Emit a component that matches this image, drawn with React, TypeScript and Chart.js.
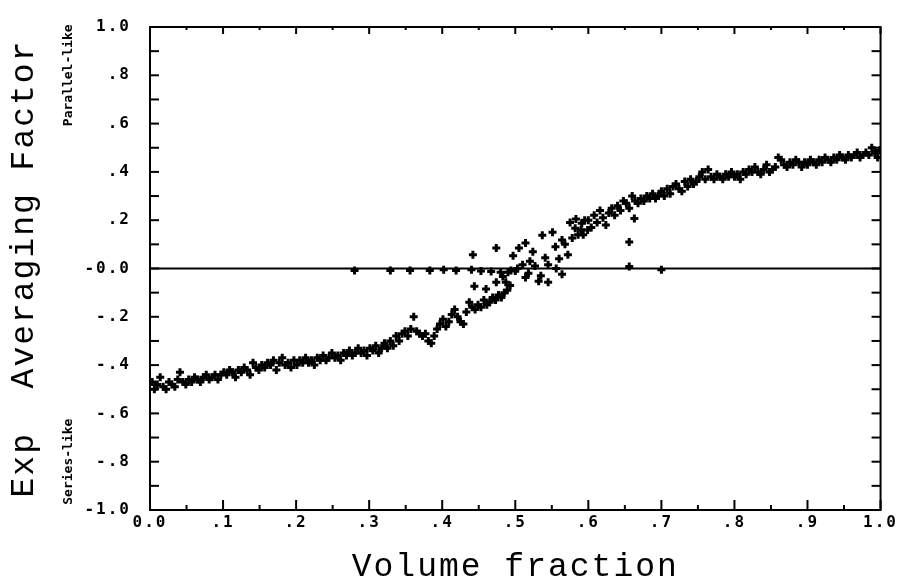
import React, { useEffect, useRef } from 'react';
import { Chart, registerables } from 'chart.js';

Chart.register(...registerables);

// ---- data ----
const bandLowX = [
  0.003, 0.006, 0.010, 0.014, 0.018, 0.022, 0.026, 0.030, 0.034, 0.038, 0.041, 0.045, 0.049, 0.053,
  0.057, 0.061, 0.065, 0.069, 0.073, 0.077, 0.081, 0.085, 0.089, 0.093, 0.097, 0.101,
  0.105, 0.109, 0.113, 0.117, 0.121, 0.125, 0.129, 0.133, 0.137, 0.141, 0.145, 0.149, 0.153,
  0.157, 0.161, 0.165, 0.169, 0.173, 0.177, 0.181, 0.185, 0.189, 0.193, 0.197, 0.201,
  0.205, 0.209, 0.213, 0.217, 0.221, 0.225, 0.229, 0.233, 0.237, 0.241, 0.245, 0.249, 0.253,
  0.257, 0.261, 0.265, 0.269, 0.273, 0.277, 0.281, 0.285, 0.289, 0.293, 0.297,
  0.301, 0.305, 0.309, 0.313, 0.317, 0.321, 0.325, 0.329, 0.333, 0.337, 0.341, 0.345, 0.349,
  0.353, 0.357, 0.361, 0.365, 0.369, 0.373, 0.377, 0.381, 0.385, 0.389, 0.393, 0.397,
];
const bandLowY = [
  -0.47, -0.50, -0.48, -0.45, -0.49, -0.50, -0.47, -0.48, -0.49, -0.46, -0.43, -0.47, -0.48, -0.46,
  -0.47, -0.45, -0.46, -0.47, -0.45, -0.44, -0.46, -0.45, -0.44, -0.46, -0.44, -0.43,
  -0.44, -0.42, -0.43, -0.45, -0.42, -0.43, -0.41, -0.42, -0.44, -0.39, -0.41, -0.42, -0.40,
  -0.41, -0.39, -0.40, -0.38, -0.42, -0.39, -0.37, -0.40, -0.39, -0.41, -0.38, -0.40,
  -0.38, -0.39, -0.37, -0.39, -0.38, -0.40, -0.37, -0.38, -0.36, -0.38, -0.37, -0.35, -0.37,
  -0.36, -0.38, -0.35, -0.36, -0.34, -0.36, -0.35, -0.33, -0.35, -0.34, -0.36,
  -0.33, -0.34, -0.32, -0.35, -0.33, -0.31, -0.33, -0.30, -0.32, -0.28, -0.30, -0.27, -0.26,
  -0.28, -0.25, -0.20, -0.26, -0.27, -0.28, -0.27, -0.30, -0.31, -0.28, -0.25, -0.23,
];

const crossoverX = [
  0.401, 0.405, 0.409, 0.413, 0.417, 0.421, 0.425, 0.429, 0.433, 0.437, 0.441, 0.445, 0.449,
  0.453, 0.457, 0.461, 0.465, 0.469, 0.473, 0.477, 0.481, 0.485, 0.489, 0.493,
  0.442, 0.474, 0.497, 0.505, 0.514, 0.524, 0.537, 0.551, 0.564, 0.578, 0.582, 0.591, 0.599,
  0.572, 0.541, 0.545, 0.510, 0.490, 0.483, 0.474, 0.514, 0.532, 0.545, 0.487, 0.564, 0.444,
  0.460, 0.500, 0.503, 0.518, 0.520, 0.527, 0.535, 0.556, 0.560, 0.555, 0.568, 0.586, 0.595,
  0.575, 0.583, 0.590, 0.593,
];
const crossoverY = [
  -0.21, -0.24, -0.22, -0.19, -0.17, -0.20, -0.22, -0.23, -0.18, -0.14, -0.16, -0.17, -0.15,
  -0.16, -0.13, -0.15, -0.14, -0.12, -0.13, -0.11, -0.12, -0.10, -0.09, -0.07,
  0.057, 0.085, 0.053, 0.085, 0.106, 0.069, 0.138, 0.150, 0.118, 0.126, 0.167, 0.187, 0.159,
  0.057, 0.045, 0.016, 0.016, -0.016, -0.033, -0.057, -0.037, -0.053, -0.057, -0.057, -0.024, -0.073,
  -0.085, -0.010, 0.000, -0.020, 0.030, 0.010, -0.030, 0.000, 0.040, 0.090, 0.100, 0.140, 0.200,
  0.190, 0.205, 0.160, 0.140,
];

const bandHighX = [
  0.600, 0.604, 0.608, 0.612, 0.616, 0.620, 0.624, 0.628, 0.632, 0.636, 0.640, 0.644, 0.648,
  0.652, 0.656, 0.660, 0.664, 0.668, 0.672, 0.676, 0.680, 0.684, 0.688, 0.692, 0.696,
  0.700, 0.704, 0.708, 0.712, 0.716, 0.720, 0.724, 0.728, 0.732, 0.736, 0.740, 0.744, 0.748,
  0.752, 0.756, 0.760, 0.764, 0.768, 0.772, 0.776, 0.780, 0.784, 0.788, 0.792, 0.796,
  0.800, 0.804, 0.808, 0.812, 0.816, 0.820, 0.824, 0.828, 0.832, 0.836, 0.840, 0.844, 0.848,
  0.852, 0.856, 0.860, 0.864, 0.868, 0.872, 0.876, 0.880, 0.884, 0.888, 0.892, 0.896,
  0.900, 0.904, 0.908, 0.912, 0.916, 0.920, 0.924, 0.928, 0.932, 0.936, 0.940, 0.944, 0.948,
  0.952, 0.956, 0.960, 0.964, 0.968, 0.972, 0.976, 0.980, 0.984, 0.988, 0.992, 0.996, 0.999,
  0.663, 0.656,
];
const bandHighY = [
  0.20, 0.17, 0.22, 0.19, 0.24, 0.21, 0.18, 0.23, 0.25, 0.22, 0.26, 0.24, 0.28,
  0.27, 0.25, 0.30, 0.28, 0.27, 0.29, 0.28, 0.30, 0.29, 0.31, 0.29, 0.30,
  0.32, 0.30, 0.33, 0.31, 0.34, 0.35, 0.33, 0.32, 0.36, 0.34, 0.37, 0.35, 0.36,
  0.38, 0.40, 0.37, 0.41, 0.38, 0.37, 0.39, 0.38, 0.37, 0.39, 0.38, 0.40,
  0.38, 0.39, 0.37, 0.40, 0.39, 0.41, 0.40, 0.42, 0.40, 0.39, 0.41, 0.43, 0.40,
  0.41, 0.42, 0.46, 0.45, 0.43, 0.42, 0.44, 0.43, 0.45, 0.44, 0.42, 0.44,
  0.43, 0.45, 0.44, 0.43, 0.45, 0.44, 0.46, 0.45, 0.44, 0.46, 0.45, 0.47, 0.46,
  0.45, 0.47, 0.46, 0.47, 0.48, 0.46, 0.47, 0.48, 0.47, 0.50, 0.48, 0.46, 0.49,
  0.207, 0.110,
];

const zeroDotX = [0.280, 0.329, 0.356, 0.383, 0.402, 0.419, 0.440, 0.453, 0.467, 0.480, 0.494, 0.656, 0.700];
const zeroDotY = [-0.008, -0.008, -0.008, -0.008, -0.005, -0.008, -0.005, -0.010, -0.012, -0.016, -0.008, 0.008, -0.005];

const zeroLineX = [0, 1];
const zeroLineY = [0, 0];

const xTickValues = [0, 0.1, 0.2, 0.3, 0.4, 0.5, 0.6, 0.7, 0.8, 0.9, 1.0];
const xTickLabels = ['0.0', '.1', '.2', '.3', '.4', '.5', '.6', '.7', '.8', '.9', '1.0'];
const yTickValues = [-1, -0.8, -0.6, -0.4, -0.2, 0, 0.2, 0.4, 0.6, 0.8, 1.0];
const yTickLabels = ['-1.0', '-.8', '-.6', '-.4', '-.2', '-0.0', '.2', '.4', '.6', '.8', '1.0'];

const xAxisTitle = 'Volume fraction';
const yAxisTitle = 'Exp  Averaging Factor';
const upperNote = 'Parallel-like';
const lowerNote = 'Series-like';
const upperNoteAt = 0.8;
const lowerNoteAt = -0.8;

const MONO = "'DejaVu Sans Mono', monospace";
const TITLE_FONT = "'Liberation Mono', 'DejaVu Sans Mono', monospace";

function pairs(xs: number[], ys: number[]) {
  return xs.map((x, i) => ({ x, y: ys[i] }));
}

const framePlugin = {
  id: 'frameTicks',
  beforeLayout(chart: any) {
    chart.ctx.letterSpacing = '2px';
  },
  beforeDraw(chart: any) {
    chart.ctx.letterSpacing = '2px';
  },
  afterDraw(chart: any) {
    const { ctx, chartArea: a, scales } = chart;
    const xs = scales.x;
    const ys = scales.y;
    ctx.save();
    ctx.strokeStyle = '#000';
    ctx.lineWidth = 2;
    ctx.strokeRect(a.left, a.top, a.right - a.left, a.bottom - a.top);
    const seg = (x1: number, y1: number, x2: number, y2: number) => {
      ctx.beginPath();
      ctx.moveTo(x1, y1);
      ctx.lineTo(x2, y2);
      ctx.stroke();
    };
    xTickValues.forEach((v, i) => {
      const px = xs.getPixelForValue(v);
      seg(px, a.bottom, px, a.bottom - 10);
      seg(px, a.top, px, a.top + 7);
      if (i < xTickValues.length - 1) {
        const pm = xs.getPixelForValue((v + xTickValues[i + 1]) / 2);
        seg(pm, a.bottom, pm, a.bottom - 5);
        seg(pm, a.top, pm, a.top + 3);
      }
    });
    yTickValues.forEach((v, i) => {
      const py = ys.getPixelForValue(v);
      seg(a.left, py, a.left + 9, py);
      seg(a.right, py, a.right - 9, py);
      if (i < yTickValues.length - 1) {
        const pm = ys.getPixelForValue((v + yTickValues[i + 1]) / 2);
        seg(a.left, pm, a.left + 9, pm);
        seg(a.right, pm, a.right - 9, pm);
      }
    });
    ctx.fillStyle = '#000';
    ctx.font = `bold 13px ${MONO}`;
    ctx.letterSpacing = '0px';
    ctx.textAlign = 'center';
    ctx.textBaseline = 'middle';
    const nx = a.left - 81;
    [[upperNote, upperNoteAt], [lowerNote, lowerNoteAt]].forEach(([t, v]) => {
      ctx.save();
      ctx.translate(nx, ys.getPixelForValue(v as number));
      ctx.rotate(-Math.PI / 2);
      ctx.fillText(t as string, 0, 0);
      ctx.restore();
    });
    ctx.restore();
  },
};

export default function App() {
  const ref = useRef<HTMLCanvasElement | null>(null);

  useEffect(() => {
    if (!ref.current) return;
    const tickFont = { family: MONO, size: 16, weight: 'bold' as const, lineHeight: 1 };
    const titleFont = { family: TITLE_FONT, size: 33, weight: 'normal' as const, lineHeight: 1 };
    const chart = new Chart(ref.current, {
      type: 'scatter',
      data: {
        datasets: [
          {
            label: 'zero',
            data: pairs(zeroLineX, zeroLineY),
            showLine: true,
            borderColor: '#000',
            borderWidth: 2,
            pointRadius: 0,
            order: 2,
          } as any,
          {
            label: 'points',
            data: [
              ...pairs(bandLowX, bandLowY),
              ...pairs(crossoverX, crossoverY),
              ...pairs(bandHighX, bandHighY),
              ...pairs(zeroDotX, zeroDotY),
            ],
            pointStyle: 'cross',
            pointRadius: 4,
            borderWidth: 3,
            borderColor: '#000',
            backgroundColor: '#000',
            order: 1,
          },
        ],
      },
      options: {
        animation: false,
        responsive: true,
        maintainAspectRatio: false,
        events: [],
        layout: { padding: { top: 20, right: 14, left: 0, bottom: 0 } },
        plugins: { legend: { display: false }, tooltip: { enabled: false } },
        scales: {
          x: {
            type: 'linear',
            min: 0,
            max: 1,
            grid: { display: false, drawTicks: false },
            border: { display: false },
            ticks: {
              stepSize: 0.1,
              autoSkip: false,
              maxRotation: 0,
              color: '#000',
              font: tickFont,
              padding: 5,
              callback: (_v: any, i: number) => xTickLabels[i],
            },
            title: {
              display: true,
              text: xAxisTitle,
              color: '#000',
              font: titleFont,
              padding: { top: 0, bottom: 2 },
            },
            afterFit: (s: any) => {
              s.height = 76;
            },
          },
          y: {
            type: 'linear',
            min: -1,
            max: 1,
            grid: { display: false, drawTicks: false },
            border: { display: false },
            ticks: {
              stepSize: 0.2,
              autoSkip: false,
              color: '#000',
              font: tickFont,
              padding: 19,
              callback: (_v: any, i: number) => yTickLabels[i],
            },
            title: {
              display: true,
              text: yAxisTitle,
              color: '#000',
              font: titleFont,
              padding: { top: 8, bottom: 0 },
            },
            afterFit: (s: any) => {
              s.width = 150;
            },
          },
        },
      },
      plugins: [framePlugin],
    });
    return () => chart.destroy();
  }, []);

  return (
    <div style={{ position: 'fixed', left: 0, top: 0, width: 903, height: 586, background: '#fff' }}>
      <canvas ref={ref} />
    </div>
  );
}
